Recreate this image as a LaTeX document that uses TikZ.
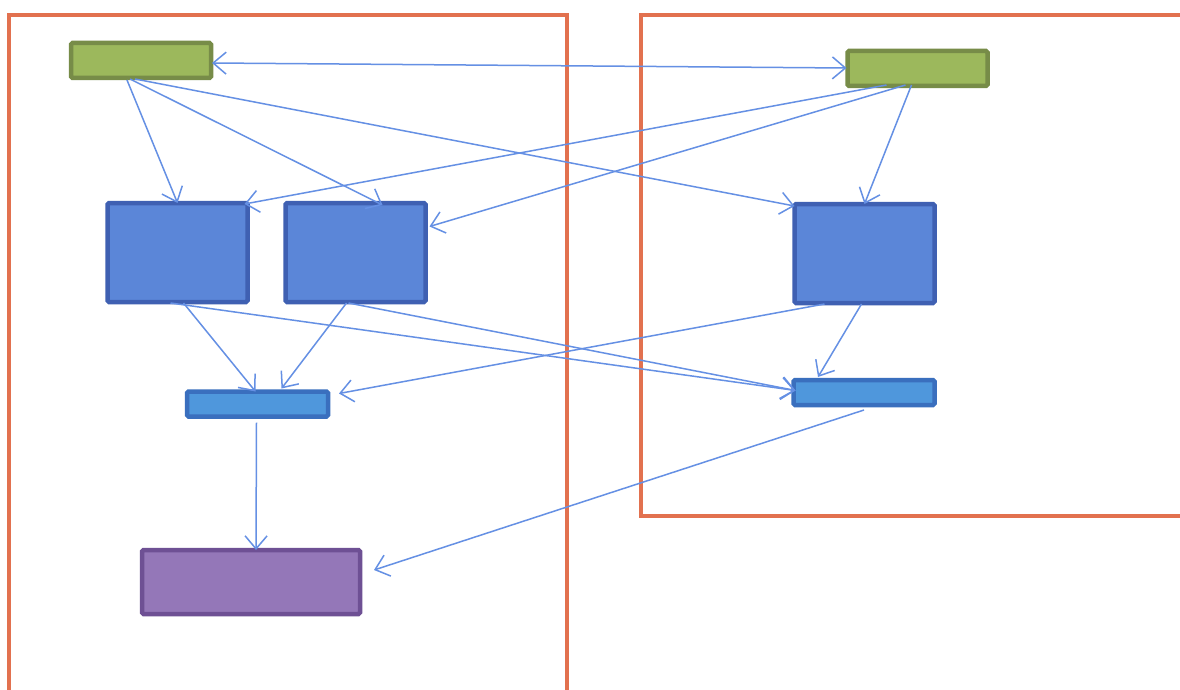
\documentclass[tikz,border=0pt]{standalone}
\usetikzlibrary{arrows.meta,calc}
\definecolor{frameC}{HTML}{E2714F}
\definecolor{arrowC}{HTML}{6590E4}
\definecolor{greenF}{HTML}{9CB85C}
\definecolor{greenD}{HTML}{778C48}
\definecolor{blueF}{HTML}{5B86D8}
\definecolor{blueD}{HTML}{3F60B2}
\definecolor{lblueF}{HTML}{4F97DC}
\definecolor{lblueD}{HTML}{3A6FBE}
\definecolor{purF}{HTML}{9477B8}
\definecolor{purD}{HTML}{6E5094}
\begin{document}
\begin{tikzpicture}[x=1pt,y=-1pt,
  box/.style={line width=4.5pt,rounded corners=1.5pt,inner sep=0pt,outer sep=0pt,rectangle},
  greenbox/.style={box,draw=greenD,fill=greenF,minimum width=140pt,minimum height=35pt},
  bigblue/.style={box,draw=blueD,fill=blueF,minimum width=140pt,minimum height=99pt},
  lightblue/.style={box,draw=lblueD,fill=lblueF,minimum width=141pt,minimum height=25pt},
  purplebox/.style={box,draw=purD,fill=purF,minimum width=218pt,minimum height=64pt},
  frame/.style={draw=frameC,line width=4pt},
  conn/.style={draw=arrowC,line width=1.5pt,-{Straight Barb[length=13pt,width=22pt]}},
  biconn/.style={draw=arrowC,line width=1.5pt,{Straight Barb[length=13pt,width=22pt]}-{Straight Barb[length=13pt,width=22pt]}}
]
\useasboundingbox (0,0) rectangle (1180,690);
\fill[white] (0,0) rectangle (1180,690);
% frames
\draw[frame] (9,15) rectangle (567,720);
\draw[frame] (641,15) rectangle (1220,516);
% nodes
\node[greenbox] (gL) at (141,60.5) {};
\node[greenbox] (gR) at (917.5,68.5) {};
\node[bigblue] (b1) at (177.5,252.5) {};
\node[bigblue] (b2) at (355.5,252.5) {};
\node[bigblue] (b3) at (864.5,253.5) {};
\node[lightblue] (lL) at (257.5,404) {};
\node[lightblue] (lR) at (864,392.5) {};
\node[purplebox] (pu) at (251,582) {};
% connectors
\draw[biconn] ($(gL.east)+(1,2.5)$) -- ($(gR.west)+(-1,-0.5)$);
\draw[conn] ($(gL.south)+(-14,2)$) -- (b1.north);
\draw[conn] ($(gL.south)+(-11,1)$) -- ($(b2.north)+(27,2)$);
\draw[conn] ($(gL.south)+(-6,1)$) -- ($(b3.north west)+(0,2)$);
\draw[conn] ($(gR.south)+(-31,-1)$) -- ($(b1.north east)+(-3,1)$);
\draw[conn] ($(gR.south)+(-12,-1)$) -- ($(b2.east)+(4,-26)$);
\draw[conn] ($(gR.south)+(-6,-1)$) -- (b3.north);
\draw[conn] ($(b1.south)+(6,1)$) -- ($(lL.north)+(-2,0)$);
\draw[conn] ($(b2.south)+(-9,1)$) -- ($(lL.north)+(24,-3)$);
\draw[conn] ($(b1.south)+(-7,1)$) -- ($(lR.west)+(2,-2)$);
\draw[conn] ($(b2.south)+(-7,1)$) -- ($(lR.west)+(2,-2)$);
\draw[conn] ($(b3.south)+(-40,1)$) -- ($(lL.north east)+(11,2)$);
\draw[conn] ($(b3.south)+(-3,1)$) -- ($(lR.north)+(-46,-3)$);
\draw[conn] ($(lL.south)+(-1,6)$) -- ($(pu.north)+(5,0)$);
\draw[conn] ($(lR.south)+(0,5)$) -- ($(pu.east)+(14,-12)$);
\end{tikzpicture}
\end{document}
